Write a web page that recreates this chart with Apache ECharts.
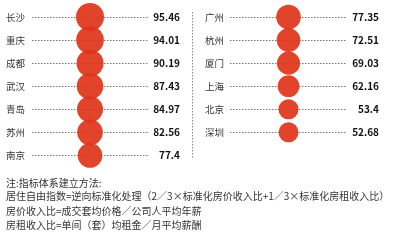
<!DOCTYPE html>
<html><head><meta charset="utf-8">
<script src="https://cdn.jsdelivr.net/npm/echarts@6/dist/echarts.min.js"></script>
<style>html,body{margin:0;padding:0;background:#fff}#c{width:399px;height:240px}</style>
</head><body><div id="c"></div>
<script>
const leftCities = ['长沙','重庆','成都','武汉','青岛','苏州','南京'];
const leftValues = [95.46, 94.01, 90.19, 87.43, 84.97, 82.56, 77.4];
const rightCities = ['广州','杭州','厦门','上海','北京','深圳'];
const rightValues = [77.35, 72.51, 69.03, 62.16, 53.4, 52.68];
const colName = ['居住自由指数'];
const noteLines = [
  '注:指标体系建立方法:',
  '居住自由指数=逆向标准化处理（2／3×标准化房价收入比+1／3×标准化房租收入比）',
  '房价收入比=成交套均价格／公司人平均年薪',
  '房租收入比=单间（套）均租金／月平均薪酬'
];

const FONT = '"Noto Sans CJK SC", "Noto Sans", sans-serif';
const chart = echarts.init(document.getElementById('c'), null, {renderer:'canvas'});
const sizeFn = d => 20 + 0.187 * (d[2] - 52.68);

function yAxes(grid, cities, values, nameMargin) {
  return [
    {type:'category', gridIndex:grid, data:cities, inverse:true, boundaryGap:false,
     axisLine:{show:false}, axisTick:{show:false},
     axisLabel:{interval:0, align:'left', margin:nameMargin, fontSize:9.5, color:'#333', fontFamily:FONT},
     splitLine:{show:true, interval:0, lineStyle:{type:[1.5,1.5], color:'#777', width:1}}},
    {type:'category', gridIndex:grid, data:values.map(String), inverse:true, boundaryGap:false, position:'right',
     axisLine:{show:false}, axisTick:{show:false}, splitLine:{show:false},
     axisLabel:{interval:0, align:'right', margin:32, fontSize:10, fontWeight:'bold', color:'#111', fontFamily:FONT}}
  ];
}

const gridTop = 17;
const step = 23.07;
chart.setOption({
  animation:false,
  grid:[
    {left:32, right:399-148, top:gridTop, height:step*(leftCities.length-1)},
    {left:230, right:399-347, top:gridTop, height:step*(rightCities.length-1)}
  ],
  xAxis:[
    {type:'category', gridIndex:0, data:colName, show:false},
    {type:'category', gridIndex:1, data:colName, show:false}
  ],
  yAxis:[...yAxes(0, leftCities, leftValues, 26), ...yAxes(1, rightCities, rightValues, 25)],
  series:[
    {type:'scatter', xAxisIndex:0, yAxisIndex:0, symbolSize:sizeFn,
     itemStyle:{color:'#de3419', opacity:0.92},
     data:leftCities.map((c,i)=>[colName[0], c, leftValues[i]])},
    {type:'scatter', xAxisIndex:1, yAxisIndex:2, symbolSize:sizeFn,
     itemStyle:{color:'#de3419', opacity:0.92},
     data:rightCities.map((c,i)=>[colName[0], c, rightValues[i]])}
  ],
  graphic:[
    {type:'line', shape:{x1:192.5, y1:12, x2:192.5, y2:159},
     style:{stroke:'#888', lineWidth:1, lineDash:[1.5,1.5]}},
    ...noteLines.map((t,i)=>({type:'text', left:6, top:[178,191,206,220][i],
      style:{text:t, fontSize:10, fill:'#333', fontFamily:FONT}}))
  ]
});
</script></body></html>
